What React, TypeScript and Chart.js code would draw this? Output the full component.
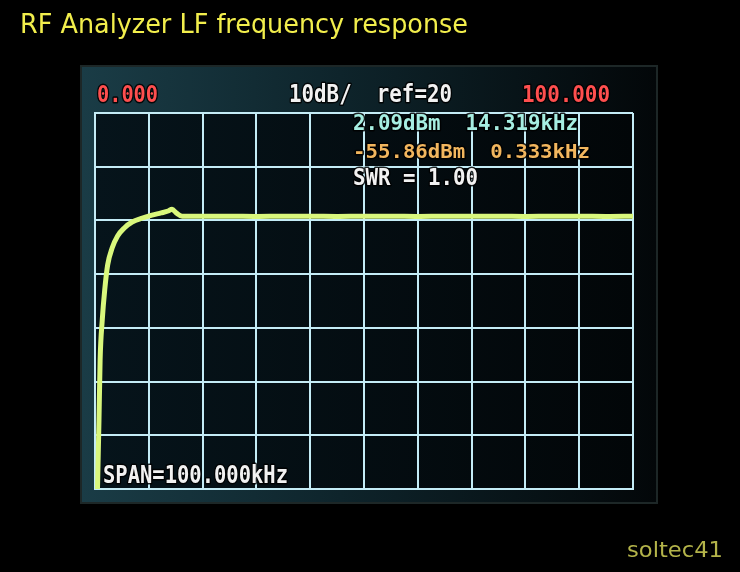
import React, { useEffect, useRef } from "react";
import { Chart, registerables } from "chart.js";

Chart.register(...registerables);

// ---- text content ----
const titleText = "RF Analyzer LF frequency response";
const creditText = "soltec41";
const startLabel = "0.000";
const scaleLabel = "10dB/  ref=20";
const stopLabel = "100.000";
const marker1Label = "2.09dBm  14.319kHz";
const marker2Label = "-55.86dBm  0.333kHz";
const swrLabel = "SWR = 1.00";
const spanLabel = "SPAN=100.000kHz";

// ---- axis ranges (kHz, dBm) ----
const xMin = 0;
const xMax = 100;
const xStep = 10;
const yMin = -50;
const yMax = 20;
const yStep = 10;

// ---- trace values ----
const freqKHz = [
  0.333, 0.74, 0.95, 1.35, 1.8, 2.35, 3.2, 4.2, 5.45, 6.9, 8.8, 10.6, 12.3, 13.6,
  14.319, 15.1, 16.2, 20, 25, 30, 35, 40, 45, 50, 55, 60, 65, 70, 75, 80, 85, 90, 95, 100,
];
const levelDbm = [
  -55.86, -37.2, -26.0, -18.5, -13.0, -8.3, -5.1, -2.9, -1.4, -0.3, 0.45, 1.0, 1.4, 1.75,
  2.09, 1.4, 0.8, 0.8, 0.8, 0.75, 0.8, 0.8, 0.75, 0.8, 0.8, 0.75, 0.8, 0.8, 0.8, 0.75, 0.8, 0.8,
  0.75, 0.8,
];

function fitText(
  ctx: CanvasRenderingContext2D,
  text: string,
  left: number,
  right: number,
  baseline: number,
  cap: number,
  color: string,
  family: string,
  weight: string,
  outline: boolean
) {
  const size = cap / 0.73;
  ctx.save();
  ctx.font = `${weight} ${size}px ${family}`;
  ctx.textBaseline = "alphabetic";
  ctx.textAlign = "left";
  const w = ctx.measureText(text).width;
  const sx = (right - left) / w;
  ctx.translate(left, baseline);
  ctx.scale(sx, 1);
  if (outline) {
    ctx.lineWidth = 3;
    ctx.lineJoin = "round";
    ctx.strokeStyle = "rgba(0,0,0,0.85)";
    ctx.strokeText(text, 0, 0);
  }
  ctx.fillStyle = color;
  ctx.fillText(text, 0, 0);
  ctx.restore();
}

const screenPlugin = {
  id: "screenDecor",
  beforeDraw(chart: any) {
    const { ctx, chartArea: a, width, height } = chart;
    ctx.save();
    ctx.fillStyle = "#000000";
    ctx.fillRect(0, 0, width, height);
    // instrument screen panel
    const g = ctx.createLinearGradient(82, 0, 656, 0);
    g.addColorStop(0, "#1a3c46");
    g.addColorStop(0.45, "#0e242b");
    g.addColorStop(1, "#030709");
    ctx.fillStyle = g;
    ctx.fillRect(82, 67, 574, 435);
    ctx.strokeStyle = "#1d2727";
    ctx.lineWidth = 2;
    ctx.strokeRect(81, 66, 576, 437);
    // plot interior
    const g2 = ctx.createLinearGradient(a.left, 0, a.right, 0);
    g2.addColorStop(0, "#06141b");
    g2.addColorStop(1, "#020608");
    ctx.fillStyle = g2;
    ctx.fillRect(a.left, a.top, a.right - a.left, a.bottom - a.top);
    ctx.restore();
  },
  afterDraw(chart: any) {
    const ctx = chart.ctx as CanvasRenderingContext2D;
    const sans = "'DejaVu Sans', sans-serif";
    const mono = "'DejaVu Sans Mono', monospace";
    fitText(ctx, titleText, 20, 468, 33, 19, "#f2ee4c", sans, "normal", false);
    fitText(ctx, creditText, 627, 723, 557, 15, "#b4b44a", sans, "normal", false);
    fitText(ctx, startLabel, 97, 158, 102, 17, "#ff4f4f", mono, "bold", true);
    fitText(ctx, scaleLabel, 289, 452, 102, 18, "#f2f2f2", mono, "bold", true);
    fitText(ctx, stopLabel, 522, 610, 102, 17, "#ff4f4f", mono, "bold", true);
    fitText(ctx, marker1Label, 353, 578, 130, 15, "#a6eee2", mono, "bold", true);
    fitText(ctx, marker2Label, 353, 590, 158, 14, "#f2b65e", mono, "bold", true);
    fitText(ctx, swrLabel, 353, 478, 185, 17, "#f2f2f2", mono, "bold", true);
    fitText(ctx, spanLabel, 103, 288, 483, 18, "#f2f2f2", mono, "bold", true);
  },
};

export default function App() {
  const canvasRef = useRef<HTMLCanvasElement | null>(null);

  useEffect(() => {
    const canvas = canvasRef.current;
    if (!canvas) return;
    const points = freqKHz.map((f, i) => ({ x: f, y: levelDbm[i] }));
    const gridColor = "#c4ecf6";
    const chart = new Chart(canvas, {
      type: "line",
      data: {
        datasets: [
          {
            label: "S21",
            data: points,
            borderColor: "#d9f77c",
            borderWidth: 5,
            pointRadius: 0,
            cubicInterpolationMode: "monotone",
            fill: false,
          },
        ],
      },
      options: {
        animation: false,
        responsive: false,
        devicePixelRatio: 1,
        events: [],
        layout: { padding: { left: 95, right: 107, top: 113, bottom: 83 } },
        plugins: {
          legend: { display: false },
          tooltip: { enabled: false },
          title: { display: false },
        },
        scales: {
          x: {
            type: "linear",
            min: xMin,
            max: xMax,
            ticks: { display: false, stepSize: xStep },
            grid: { color: gridColor, lineWidth: 2, drawTicks: false },
            border: { display: true, color: gridColor, width: 2 },
          },
          y: {
            type: "linear",
            min: yMin,
            max: yMax,
            ticks: { display: false, stepSize: yStep },
            grid: { color: gridColor, lineWidth: 2, drawTicks: false },
            border: { display: true, color: gridColor, width: 2 },
          },
        },
      },
      plugins: [screenPlugin],
    });
    return () => chart.destroy();
  }, []);

  return (
    <div style={{ position: "fixed", left: 0, top: 0, width: 740, height: 572, background: "#000" }}>
      <canvas ref={canvasRef} width={740} height={572} style={{ display: "block" }} />
    </div>
  );
}
